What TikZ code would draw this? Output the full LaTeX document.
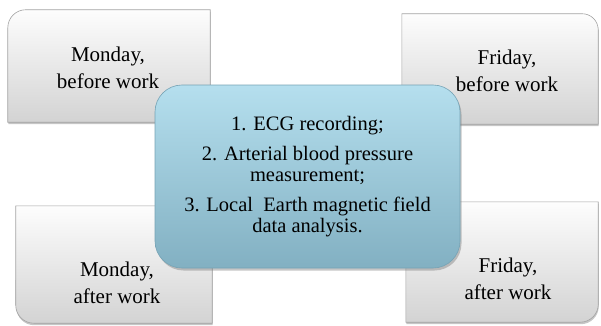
\documentclass[tikz,border=0pt]{standalone}
\usepackage{fontspec}
\setmainfont{Liberation Serif}
\usepackage{tikz}
\usetikzlibrary{positioning,calc,shadows}
\definecolor{daytop}{HTML}{FDFDFD}
\definecolor{daybot}{HTML}{D3D3D3}
\definecolor{dayline}{HTML}{A3A3A3}
\definecolor{tasktop}{HTML}{B5DFEE}
\definecolor{taskbot}{HTML}{82B0C2}
\definecolor{taskline}{HTML}{76A3B5}
\tikzstyle{daybox} = [top color=daytop, bottom color=daybot, draw=dayline, line width=0.6bp, drop shadow={shadow xshift=0.5bp, shadow yshift=-2bp, opacity=0.45}]
\tikzstyle{dayspot} = [rectangle, inner sep=0pt]
\tikzstyle{daytext} = [align=center, font=\fontsize{21bp}{27bp}\selectfont]
\tikzstyle{taskbox} = [rectangle, rounded corners=27bp, minimum width=305bp, minimum height=183bp, top color=tasktop, bottom color=taskbot, draw=taskline, line width=0.6bp, drop shadow={shadow xshift=1.5bp, shadow yshift=-2.5bp, opacity=0.45}]
\tikzstyle{tasktext} = [align=center, font=\fontsize{20.5bp}{21bp}\selectfont]

\begin{document}
\begin{tikzpicture}[x=1bp,y=1bp]
	\useasboundingbox (0,0) rectangle (601,325);
	% corner boxes
	\node[dayspot,minimum width=202bp,minimum height=112bp](monbefore) at (109,259){};
	\node[dayspot,minimum width=196bp,minimum height=110bp](fribefore) at (500,256){};
	\node[dayspot,minimum width=196bp,minimum height=117bp](monafter) at (114,60.5){};
	\node[dayspot,minimum width=192bp,minimum height=120bp](friafter) at (502,63){};
	\shade[daybox] (monbefore.north east) -- (monbefore.south east) -- (monbefore.south west) -- ([yshift=-18]monbefore.north west) arc[start angle=180,end angle=90,radius=18] -- cycle;
	\shade[daybox] (fribefore.north west) -- (fribefore.south west) -- (fribefore.south east) -- ([yshift=-16]fribefore.north east) arc[start angle=0,end angle=90,radius=16] -- cycle;
	\shade[daybox] (monafter.north west) -- (monafter.north east) -- (monafter.south east) -- ([xshift=18]monafter.south west) arc[start angle=270,end angle=180,radius=18] -- cycle;
	\shade[daybox] (friafter.north east) -- (friafter.north west) -- (friafter.south west) -- ([xshift=-18]friafter.south east) arc[start angle=270,end angle=360,radius=18] -- cycle;
	\node[daytext](monbeforetext) at (108,257){Monday,\\before work};
	\node[daytext](fribeforetext) at (507,254){Friday,\\before work};
	\node[daytext](monaftertext) at (117,42){Monday,\\after work};
	\node[daytext](friaftertext) at (508,46){Friday,\\after work};
	% centre box
	\node[taskbox](tasks) at (307.5,148.5){};
	\node[tasktext](taskstext) at (tasks.center){1. ECG recording;\\[9bp] 2. Arterial blood pressure\\measurement;\\[9bp] 3. Local\ \ Earth magnetic field\\data analysis.};
\end{tikzpicture}
\end{document}
